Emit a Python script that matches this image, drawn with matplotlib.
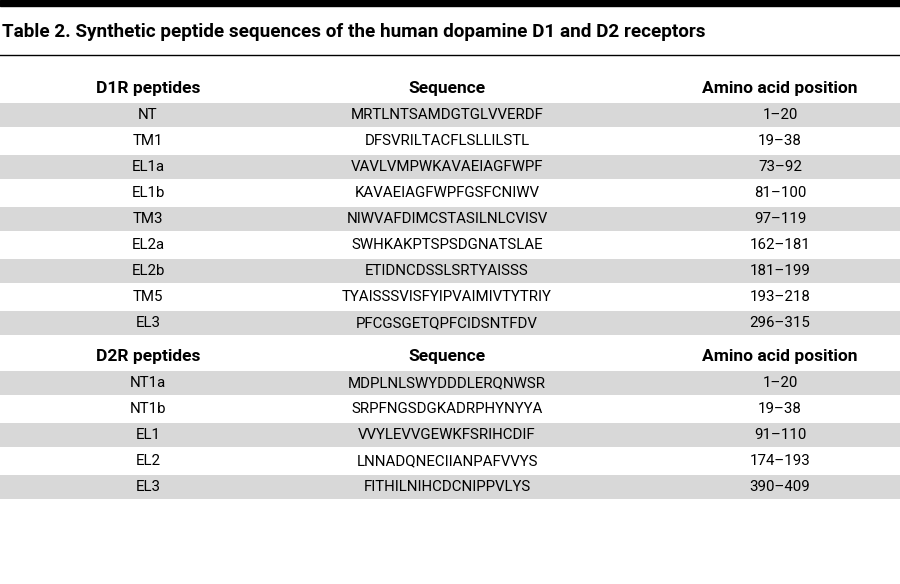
import matplotlib.pyplot as plt
from matplotlib.patches import Rectangle

title = "Table 2. Synthetic peptide sequences of the human dopamine D1 and D2 receptors"
header1 = ["D1R peptides", "Sequence", "Amino acid position"]
d1_names = ["NT", "TM1", "EL1a", "EL1b", "TM3", "EL2a", "EL2b", "TM5", "EL3"]
d1_seqs = ["MRTLNTSAMDGTGLVVERDF", "DFSVRILTACFLSLLILSTL", "VAVLVMPWKAVAEIAGFWPF",
           "KAVAEIAGFWPFGSFCNIWV", "NIWVAFDIMCSTASILNLCVISV", "SWHKAKPTSPSDGNATSLAE",
           "ETIDNCDSSLSRTYAISSS", "TYAISSSVISFYIPVAIMIVTYTRIY", "PFCGSGETQPFCIDSNTFDV"]
d1_pos = ["1–20", "19–38", "73–92", "81–100", "97–119", "162–181", "181–199", "193–218", "296–315"]
header2 = ["D2R peptides", "Sequence", "Amino acid position"]
d2_names = ["NT1a", "NT1b", "EL1", "EL2", "EL3"]
d2_seqs = ["MDPLNLSWYDDDLERQNWSR", "SRPFNGSDGKADRPHYNYYA", "VVYLEVVGEWKFSRIHCDIF",
           "LNNADQNECIIANPAFVVYS", "FITHILNIHCDCNIPPVLYS"]
d2_pos = ["1–20", "19–38", "91–110", "174–193", "390–409"]

plt.rcParams['font.family'] = ['Roboto', 'DejaVu Sans']
fig = plt.figure(figsize=(9, 5.84), dpi=100)
ax = fig.add_axes([0, 0, 1, 1])
ax.set_xlim(0, 900)
ax.set_ylim(584, 0)
ax.axis('off')

ax.add_patch(Rectangle((0, 0), 900, 6, color='black'))
ax.text(2, 32, title, fontsize=13.6, fontweight='bold', va='center', ha='left')
ax.plot([0, 900], [55, 55], color='black', lw=1)

col_x = [148, 447, 780]
gray = '#d8d8d8'
pitch = 26

def block(header, names, seqs, pos, y0):
    for x, h in zip(col_x, header):
        ax.text(x, y0, h, fontsize=12.5, fontweight='bold', ha='center', va='center')
    for i, row in enumerate(zip(names, seqs, pos)):
        y = y0 + 27 + i * pitch
        if i % 2 == 0:
            ax.add_patch(Rectangle((0, y - pitch / 2 + 1), 900, pitch - 2, color=gray, lw=0))
        for x, t in zip(col_x, row):
            ax.text(x, y, t, fontsize=10.8, ha='center', va='center')

block(header1, d1_names, d1_seqs, d1_pos, 88)
block(header2, d2_names, d2_seqs, d2_pos, 356)

fig.savefig("out.png", dpi=100)
